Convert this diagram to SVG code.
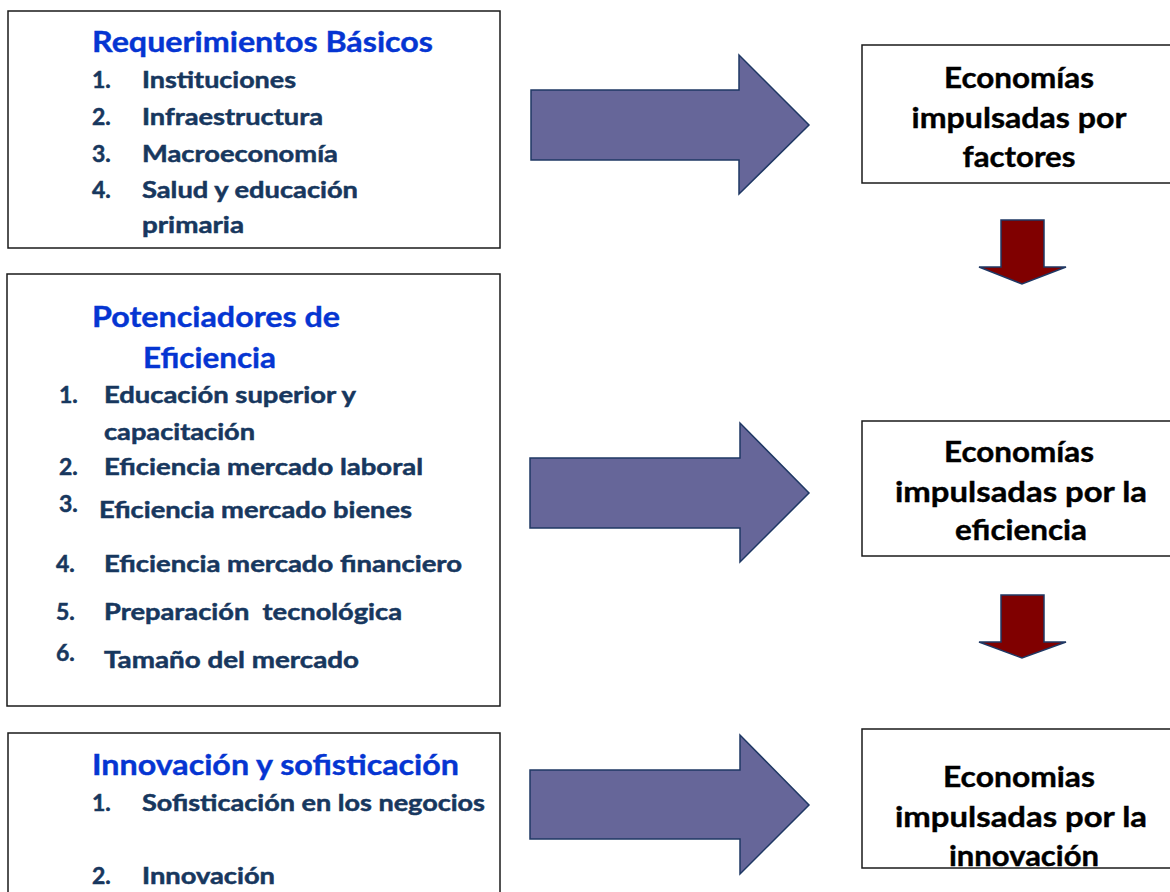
<svg xmlns="http://www.w3.org/2000/svg" width="1170" height="892" viewBox="0 0 1170 892">
  <style>
    .box { fill: #ffffff; stroke: #1a1a1a; stroke-width: 1.5; }
    .frame { fill: none; stroke: #1a1a1a; stroke-width: 1.5; }
    .title { font-family: Lato, "Liberation Sans", sans-serif; font-weight: bold; font-size: 29px; fill: #0535D2; stroke: #0535D2; stroke-width: 0.4; }
    .item { font-family: Lato, "Liberation Sans", sans-serif; font-weight: bold; font-size: 23px; fill: #17375E; stroke: #17375E; stroke-width: 0.5; }
    .out { font-family: Lato, "Liberation Sans", sans-serif; font-weight: bold; font-size: 29px; fill: #000000; stroke: #000000; stroke-width: 0.4; text-anchor: middle; }
    .bigarrow { fill: #666699; stroke: #1F3864; stroke-width: 1.5; stroke-linejoin: miter; }
    .downarrow { fill: #800000; stroke: #1F3864; stroke-width: 1.5; }
  </style>

  <rect width="1170" height="892" fill="#ffffff"/>

  <g id="node-requerimientos">
    <rect class="box" x="8" y="11" width="492" height="237"/>
    <text class="title" x="92" y="52" textLength="341" lengthAdjust="spacingAndGlyphs">Requerimientos Básicos</text>
    <text class="item" x="92" y="88">1.</text>
    <text class="item" x="142" y="88" textLength="154" lengthAdjust="spacingAndGlyphs">Instituciones</text>
    <text class="item" x="92" y="125">2.</text>
    <text class="item" x="142" y="125" textLength="181" lengthAdjust="spacingAndGlyphs">Infraestructura</text>
    <text class="item" x="92" y="162">3.</text>
    <text class="item" x="142" y="162" textLength="196" lengthAdjust="spacingAndGlyphs">Macroeconomía</text>
    <text class="item" x="92" y="198">4.</text>
    <text class="item" x="142" y="198" textLength="216" lengthAdjust="spacingAndGlyphs">Salud y educación</text>
    <text class="item" x="142" y="233" textLength="102" lengthAdjust="spacingAndGlyphs">primaria</text>
  </g>

  <g id="node-potenciadores">
    <rect class="box" x="7" y="274" width="493" height="432"/>
    <text class="title" x="92" y="327" textLength="248" lengthAdjust="spacingAndGlyphs">Potenciadores de</text>
    <text class="title" x="143" y="368" textLength="133" lengthAdjust="spacingAndGlyphs">Eficiencia</text>
    <text class="item" x="59" y="403">1.</text>
    <text class="item" x="104" y="403" textLength="252" lengthAdjust="spacingAndGlyphs">Educación superior y</text>
    <text class="item" x="104" y="440" textLength="151" lengthAdjust="spacingAndGlyphs">capacitación</text>
    <text class="item" x="59" y="475">2.</text>
    <text class="item" x="104" y="475" textLength="319" lengthAdjust="spacingAndGlyphs">Eficiencia mercado laboral</text>
    <text class="item" x="59" y="512">3.</text>
    <text class="item" x="99" y="518" textLength="313" lengthAdjust="spacingAndGlyphs">Eficiencia mercado bienes</text>
    <text class="item" x="56" y="572">4.</text>
    <text class="item" x="104" y="572" textLength="358" lengthAdjust="spacingAndGlyphs">Eficiencia mercado financiero</text>
    <text class="item" x="56" y="620">5.</text>
    <text class="item" x="104" y="620" textLength="298" lengthAdjust="spacingAndGlyphs" xml:space="preserve">Preparación  tecnológica</text>
    <text class="item" x="56" y="661">6.</text>
    <text class="item" x="104" y="668" textLength="255" lengthAdjust="spacingAndGlyphs">Tamaño del mercado</text>
  </g>

  <g id="node-innovacion">
    <rect class="box" x="8" y="733" width="492" height="200"/>
    <text class="title" x="92" y="775" textLength="367" lengthAdjust="spacingAndGlyphs">Innovación y sofisticación</text>
    <text class="item" x="92" y="811">1.</text>
    <text class="item" x="142" y="811" textLength="343" lengthAdjust="spacingAndGlyphs">Sofisticación en los negocios</text>
    <text class="item" x="92" y="884">2.</text>
    <text class="item" x="142" y="884" textLength="133" lengthAdjust="spacingAndGlyphs">Innovación</text>
  </g>

  <g id="node-factores">
    <rect class="box" x="862" y="45" width="320" height="138"/>
    <text class="out" x="1019" y="88" textLength="150" lengthAdjust="spacingAndGlyphs">Economías</text>
    <text class="out" x="1019" y="128" textLength="215" lengthAdjust="spacingAndGlyphs">impulsadas por</text>
    <text class="out" x="1019" y="167" textLength="113" lengthAdjust="spacingAndGlyphs">factores</text>
  </g>

  <g id="node-eficiencia">
    <rect class="box" x="862" y="421" width="320" height="135"/>
    <text class="out" x="1019" y="462" textLength="150" lengthAdjust="spacingAndGlyphs">Economías</text>
    <text class="out" x="1021" y="502" textLength="252" lengthAdjust="spacingAndGlyphs">impulsadas por la</text>
    <text class="out" x="1021" y="540" textLength="132" lengthAdjust="spacingAndGlyphs">eficiencia</text>
  </g>

  <g id="node-innovacion-out">
    <rect x="862" y="729" width="320" height="139" fill="#ffffff"/>
    <text class="out" x="1019" y="787" textLength="152" lengthAdjust="spacingAndGlyphs">Economias</text>
    <text class="out" x="1021" y="827" textLength="252" lengthAdjust="spacingAndGlyphs">impulsadas por la</text>
    <text class="out" x="1024" y="866" textLength="150" lengthAdjust="spacingAndGlyphs">innovación</text>
    <rect class="frame" x="862" y="729" width="320" height="139"/>
  </g>

  <g id="connectors">
    <polygon class="bigarrow" points="531,90 739,90 739,55 809,125 739,194 739,160 531,160"/>
    <polygon class="bigarrow" points="530,458 740,458 740,423 809,493 740,562 740,528 530,528"/>
    <polygon class="bigarrow" points="530,770 740,770 740,735 809,805 740,874 740,839 530,839"/>
    <polygon class="downarrow" points="1001,220 1044,220 1044,267 1066,267 1022,284 979,267 1001,267"/>
    <polygon class="downarrow" points="1001,595 1044,595 1044,642 1066,642 1022,658 979,642 1001,642"/>
  </g>
</svg>
